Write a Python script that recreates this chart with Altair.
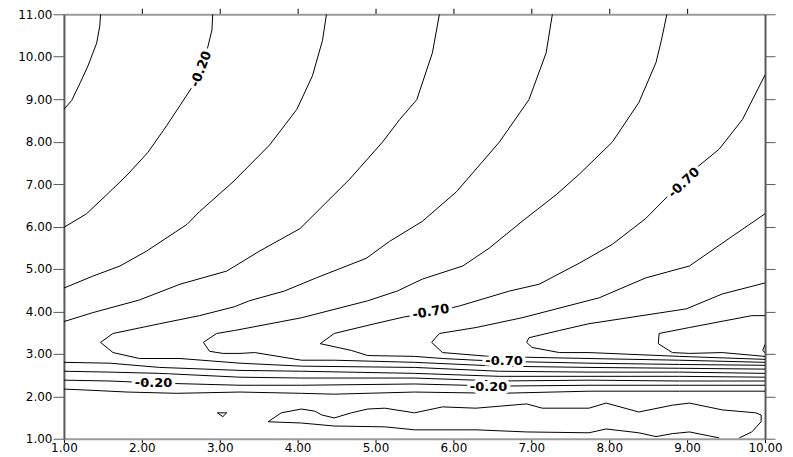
import altair as alt
import pandas as pd

# ---- contour polylines, in data units ----
# upper family (reach the left edge)
c_m01a_x = [1.00, 1.10, 1.21, 1.31, 1.42, 1.46, 1.47]
c_m01a_y = [8.76, 8.97, 9.39, 9.79, 10.32, 10.72, 11.00]

c_m02a_x = [2.91, 2.90, 2.85, 2.79, 2.73, 2.64, 2.49, 2.32, 2.08, 1.81, 1.55, 1.29, 1.00]
c_m02a_y = [11.00, 10.63, 10.25, 9.86, 9.57, 9.27, 8.85, 8.38, 7.75, 7.21, 6.75, 6.30, 5.98]

c_m03a_x = [4.37, 4.32, 4.19, 3.99, 3.64, 3.17, 2.74, 2.58, 2.06, 1.72, 1.37, 1.00]
c_m03a_y = [11.00, 10.39, 9.55, 8.76, 7.92, 7.05, 6.35, 6.05, 5.42, 5.07, 4.83, 4.55]

c_m04a_x = [5.82, 5.73, 5.53, 5.31, 5.09, 4.67, 4.03, 3.51, 3.09, 2.49, 1.97, 1.37, 1.00]
c_m04a_y = [11.00, 10.09, 8.99, 8.52, 7.99, 7.12, 5.95, 5.42, 4.95, 4.64, 4.27, 3.97, 3.76]

# tongues (come down from the top / right edge, turn at a tip, go back along the band)
c_m05_x = [7.27, 7.19, 6.97, 6.59, 6.04, 5.60, 5.18, 4.88, 4.24, 3.83, 3.38, 3.19, 2.74, 2.23, 1.63, 1.47,
           1.63, 1.97, 2.49, 3.26, 4.05, 5.50, 6.59, 7.74, 8.90, 10.00]
c_m05_y = [11.00, 10.09, 8.99, 7.99, 6.82, 6.12, 5.65, 5.25, 4.79, 4.48, 4.25, 4.11, 3.90, 3.71, 3.48, 3.27,
           3.03, 2.89, 2.89, 2.78, 2.71, 2.68, 2.59, 2.57, 2.57, 2.54]

c_m06_x = [8.74, 8.67, 8.60, 8.38, 8.04, 7.62, 7.32, 6.88, 6.46, 6.12, 5.60, 5.28, 4.90, 4.05, 3.19, 2.96, 2.79,
           2.87, 3.04, 3.26, 3.45, 4.05, 4.47, 5.50, 6.59, 7.74, 8.90, 10.00]
c_m06_y = [11.00, 10.39, 9.86, 8.92, 7.99, 7.24, 6.75, 6.12, 5.49, 5.07, 4.76, 4.48, 4.25, 3.85, 3.55, 3.48, 3.27,
           3.06, 3.01, 3.01, 3.03, 2.85, 2.85, 2.80, 2.71, 2.68, 2.66, 2.64]

c_m07_x = [10.00, 9.71, 9.41, 9.13, 8.96, 8.77, 8.47, 8.04, 7.62, 7.10, 6.72, 6.08, 5.72, 5.37, 4.99, 4.47, 4.29,
           4.69, 4.90, 5.50, 5.86, 6.29, 6.72, 7.74, 8.90, 10.00]
c_m07_y = [9.57, 8.52, 7.82, 7.40, 7.05, 6.75, 6.19, 5.58, 5.14, 4.64, 4.48, 4.13, 3.97, 3.87, 3.71, 3.48, 3.24,
           3.08, 2.96, 2.94, 2.89, 2.85, 2.82, 2.78, 2.75, 2.73]

c_m08_x = [10.00, 9.54, 9.03, 8.47, 7.87, 6.88, 6.29, 5.82, 5.72, 5.86, 6.46, 6.94, 7.74, 8.90, 10.00]
c_m08_y = [6.30, 5.72, 5.07, 4.79, 4.32, 3.85, 3.62, 3.48, 3.27, 3.03, 2.94, 2.92, 2.89, 2.85, 2.80]

c_m09_x = [10.00, 9.45, 8.99, 7.74, 7.36, 6.97, 6.94, 7.01, 7.36, 7.74, 8.90, 10.00]
c_m09_y = [4.67, 4.41, 4.06, 3.71, 3.55, 3.38, 3.27, 3.15, 3.03, 3.03, 2.94, 2.87]

c_m10_x = [10.00, 9.83, 9.03, 8.64, 8.63, 8.81, 9.03, 9.45, 10.00]
c_m10_y = [3.90, 3.90, 3.62, 3.48, 3.24, 3.03, 3.01, 3.03, 2.94]

c_m11_x = [10.00, 9.97, 10.00]
c_m11_y = [3.22, 3.08, 3.03]

# steep band (left edge to right edge)
band_x = [1.00, 1.59, 2.23, 3.26, 4.05, 5.50, 6.59, 7.74, 8.90, 10.00]
c_m04b_y = [2.80, 2.78, 2.68, 2.61, 2.59, 2.54, 2.47, 2.47, 2.47, 2.45]
c_m03b_y = [2.59, 2.57, 2.54, 2.45, 2.43, 2.43, 2.36, 2.38, 2.36, 2.36]
c_m02b_y = [2.38, 2.36, 2.31, 2.26, 2.26, 2.29, 2.24, 2.26, 2.26, 2.26]

c_m01b_x = [1.00, 1.37, 1.81, 2.45, 3.26, 4.05, 4.47, 5.50, 6.59, 7.74, 8.90, 10.00]
c_m01b_y = [2.17, 2.14, 2.10, 2.07, 2.10, 2.07, 2.05, 2.10, 2.07, 2.12, 2.12, 2.12]

# wavy contour near the bottom and the small closed triangle
c_p00_x = [9.41, 9.03, 8.81, 8.60, 8.38, 7.96, 7.74, 6.94, 6.29, 5.50, 5.12, 4.47, 4.05, 3.62,
           3.79, 4.05, 4.22, 4.31, 4.47, 4.69, 4.90, 5.12, 5.50, 5.86, 6.29, 6.94, 7.14, 7.74,
           7.96, 8.38, 8.81, 9.03, 9.45, 9.88, 9.95, 9.95, 9.83, 9.67]
c_p00_y = [1.02, 1.16, 1.12, 1.05, 1.14, 1.23, 1.14, 1.16, 1.21, 1.21, 1.28, 1.30, 1.37, 1.40,
           1.61, 1.70, 1.65, 1.56, 1.49, 1.61, 1.70, 1.72, 1.61, 1.75, 1.72, 1.82, 1.72, 1.72,
           1.84, 1.63, 1.79, 1.84, 1.68, 1.61, 1.56, 1.40, 1.16, 1.02]

c_tri_x = [2.97, 3.09, 3.04, 2.97]
c_tri_y = [1.61, 1.61, 1.52, 1.61]

# contour labels
label_text = ["-0.20", "-0.70", "-0.70", "-0.70", "-0.20", "-0.20"]
label_x = [2.76, 8.96, 5.71, 6.65, 2.15, 6.45]
label_y = [9.71, 7.03, 3.99, 2.82, 2.32, 2.23]
label_angle = [291, 317, 350, 0, 0, 0]

x_ticks = [1, 2, 3, 4, 5, 6, 7, 8, 9, 10]
y_ticks = [1, 2, 3, 4, 5, 6, 7, 8, 9, 10, 11]

# ---- build tables ----
contours = [
    ("m01a", c_m01a_x, c_m01a_y), ("m02a", c_m02a_x, c_m02a_y),
    ("m03a", c_m03a_x, c_m03a_y), ("m04a", c_m04a_x, c_m04a_y),
    ("m05", c_m05_x, c_m05_y), ("m06", c_m06_x, c_m06_y),
    ("m07", c_m07_x, c_m07_y), ("m08", c_m08_x, c_m08_y),
    ("m09", c_m09_x, c_m09_y), ("m10", c_m10_x, c_m10_y),
    ("m11", c_m11_x, c_m11_y),
    ("m04b", band_x, c_m04b_y), ("m03b", band_x, c_m03b_y),
    ("m02b", band_x, c_m02b_y), ("m01b", c_m01b_x, c_m01b_y),
    ("p00", c_p00_x, c_p00_y), ("tri", c_tri_x, c_tri_y),
]
rows = []
for cid, xs_, ys_ in contours:
    for i, (a, b) in enumerate(zip(xs_, ys_)):
        rows.append({"id": cid, "ord": i, "x": a, "y": b})
df = pd.DataFrame(rows)

lab = pd.DataFrame({"x": label_x, "y": label_y, "t": label_text, "a": label_angle})
frame = pd.DataFrame({"x": [1, 10], "y": [1, 11]})

xs = alt.Scale(domain=[1, 10], nice=False, zero=False)
ys = alt.Scale(domain=[1, 11], nice=False, zero=False)

FONT = "DejaVu Sans"

x_bottom = alt.Axis(orient="bottom", values=x_ticks, format=".2f", grid=False,
                    domainColor="#9a9a9a", domainWidth=2, tickColor="#000000",
                    tickSize=4, tickWidth=1, labelFont=FONT, labelFontSize=12,
                    labelColor="#000000", labelPadding=0, labelFlush=False,
                    labelOverlap=False, title="")
y_left = alt.Axis(orient="left", values=y_ticks, format=".2f", grid=False,
                  domainColor="#5a5a5a", domainWidth=2, tickColor="#5a5a5a",
                  tickSize=11, tickWidth=1, labelFont=FONT, labelFontSize=12,
                  labelColor="#000000", labelPadding=1, labelFlush=False,
                  labelOverlap=False, title="")
x_top = alt.Axis(orient="top", values=[2, 3, 4, 5, 6, 7, 8, 9], labels=False, grid=False,
                 domainColor="#9a9a9a", domainWidth=2, tickColor="#000000",
                 tickSize=6, tickWidth=1, title="")
y_right = alt.Axis(orient="right", values=y_ticks, labels=False, grid=False,
                   domainColor="#5a5a5a", domainWidth=2, tickColor="#5a5a5a",
                   tickSize=10, tickWidth=1, title="")

lines = alt.Chart(df).mark_line(color="#000000", strokeWidth=1, clip=True).encode(
    x=alt.X("x:Q", scale=xs, axis=x_bottom, title=""),
    y=alt.Y("y:Q", scale=ys, axis=y_left, title=""),
    detail="id:N",
    order="ord:Q",
)

halo = alt.Chart(lab).mark_text(font=FONT, fontSize=13, fontWeight="bold",
                                fill="white", stroke="white", strokeWidth=7,
                                strokeJoin="round", align="center",
                                baseline="middle").encode(
    x=alt.X("x:Q", scale=xs, axis=None),
    y=alt.Y("y:Q", scale=ys, axis=None),
    text="t:N",
    angle=alt.Angle("a:Q", scale=None),
)

texts = alt.Chart(lab).mark_text(font=FONT, fontSize=13, fontWeight="bold",
                                 color="#000000", align="center",
                                 baseline="middle").encode(
    x=alt.X("x:Q", scale=xs, axis=None),
    y=alt.Y("y:Q", scale=ys, axis=None),
    text="t:N",
    angle=alt.Angle("a:Q", scale=None),
)

axes2 = alt.Chart(frame).mark_point(opacity=0).encode(
    x=alt.X("x:Q", scale=xs, axis=x_top, title=""),
    y=alt.Y("y:Q", scale=ys, axis=y_right, title=""),
)

chart = alt.layer(lines, halo, texts, axes2).resolve_axis(
    x="independent", y="independent"
).properties(
    width=702,
    height=425,
    autosize=alt.AutoSizeParams(type="none"),
    padding={"left": 56, "top": 6, "right": 20, "bottom": 18},
    background="white",
).configure_view(strokeWidth=0)

chart.save("out.html", embed_options={"renderer": "svg", "actions": False})
